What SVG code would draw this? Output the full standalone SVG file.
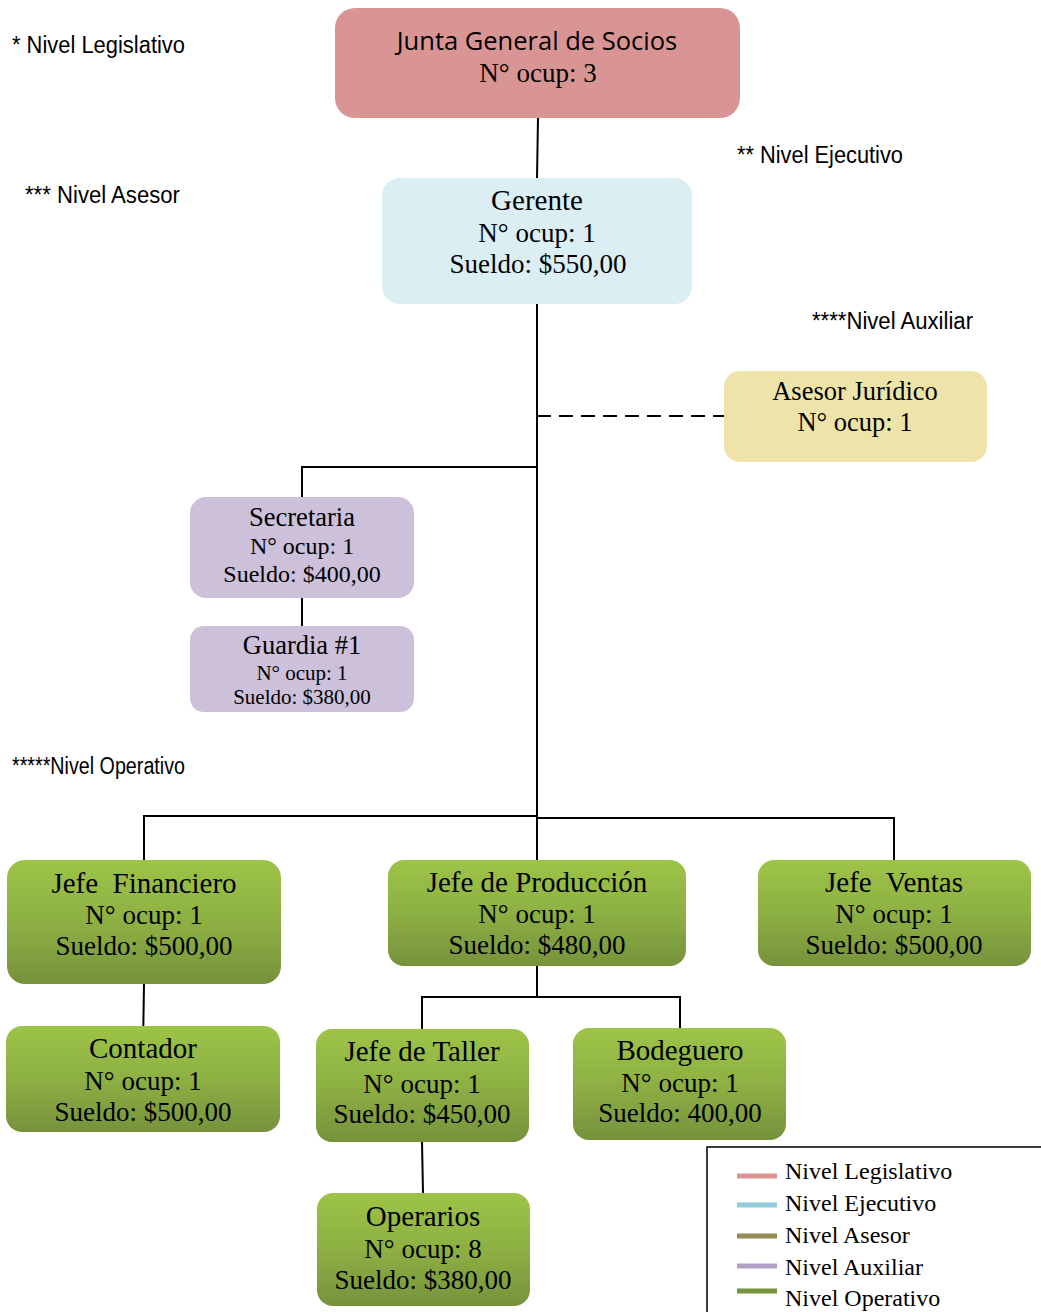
<svg xmlns="http://www.w3.org/2000/svg" width="1041" height="1312" viewBox="0 0 1041 1312">
  <defs>
    <linearGradient id="gradOper" x1="0" y1="0" x2="0" y2="1">
      <stop offset="0" stop-color="#9DC447"/>
      <stop offset="0.5" stop-color="#8DB043"/>
      <stop offset="1" stop-color="#76923C"/>
    </linearGradient>
    <style>
      .lvl { font-family: "Liberation Sans", Arial, sans-serif; font-size: 23px; fill: #000; }
      .h { font-family: "Liberation Serif", "Times New Roman", serif; font-size: 29px; fill: #000; text-anchor: middle; white-space: pre; }
      .t { font-family: "Liberation Serif", "Times New Roman", serif; font-size: 27px; fill: #000; text-anchor: middle; }
      .hs { font-family: "Liberation Serif", "Times New Roman", serif; font-size: 26.5px; fill: #000; text-anchor: middle; }
      .ts { font-family: "Liberation Serif", "Times New Roman", serif; font-size: 24px; fill: #000; text-anchor: middle; }
      .tx { font-family: "Liberation Serif", "Times New Roman", serif; font-size: 21px; fill: #000; text-anchor: middle; }
      .sans { font-family: "Open Sans", "Liberation Sans", sans-serif; font-size: 25.5px; fill: #000; text-anchor: middle; }
      .leg { font-family: "Liberation Serif", "Times New Roman", serif; font-size: 24px; fill: #000; }
      .conn { stroke: #000; stroke-width: 2; fill: none; }
      .oper { fill: url(#gradOper); }
    </style>
  </defs>

  <rect width="1041" height="1312" fill="#FFFFFF"/>

  <!-- level captions -->
  <g id="captions">
    <text class="lvl" x="12" y="53" textLength="173" lengthAdjust="spacingAndGlyphs">* Nivel Legislativo</text>
    <text class="lvl" x="25" y="203" textLength="155" lengthAdjust="spacingAndGlyphs">*** Nivel Asesor</text>
    <text class="lvl" x="737" y="163" textLength="166" lengthAdjust="spacingAndGlyphs">** Nivel Ejecutivo</text>
    <text class="lvl" x="812" y="329" textLength="161" lengthAdjust="spacingAndGlyphs">****Nivel Auxiliar</text>
    <text class="lvl" x="12" y="774" textLength="173" lengthAdjust="spacingAndGlyphs">*****Nivel Operativo</text>
  </g>

  <!-- connectors -->
  <g id="connectors">
    <line class="conn" x1="538" y1="118" x2="537" y2="178"/>
    <line class="conn" x1="537" y1="304" x2="537" y2="860"/>
    <line class="conn" x1="537" y1="416" x2="724" y2="416" stroke-dasharray="14,8"/>
    <polyline class="conn" points="537,467 302,467 302,497"/>
    <line class="conn" x1="302" y1="598" x2="302" y2="626"/>
    <polyline class="conn" points="144,860 144,816 537,816"/>
    <polyline class="conn" points="537,818 894,818 894,860"/>
    <line class="conn" x1="144" y1="984" x2="143" y2="1046"/>
    <line class="conn" x1="537" y1="966" x2="537" y2="997"/>
    <polyline class="conn" points="422,1029 422,997 680,997 680,1028"/>
    <line class="conn" x1="422" y1="1142" x2="423" y2="1193"/>
  </g>

  <g id="junta">
    <rect x="335" y="8" width="405" height="110" rx="20" fill="#D99594"/>
    <text class="sans" x="537" y="50">Junta General de Socios</text>
    <text class="t" x="538" y="82">N° ocup: 3</text>
  </g>

  <g id="gerente">
    <rect x="382" y="178" width="310" height="126" rx="18" fill="#DAEEF3"/>
    <text class="h" x="537" y="210">Gerente</text>
    <text class="t" x="537" y="242">N° ocup: 1</text>
    <text class="t" x="538" y="273">Sueldo: $550,00</text>
  </g>

  <g id="asesor">
    <rect x="724" y="371" width="263" height="91" rx="16" fill="#EEE4A9"/>
    <text class="hs" x="855" y="400">Asesor Jurídico</text>
    <text class="hs" x="855" y="431">N° ocup: 1</text>
  </g>

  <g id="secretaria">
    <rect x="190" y="497" width="224" height="101" rx="16" fill="#CCC0DA"/>
    <text class="hs" x="302" y="526">Secretaria</text>
    <text class="ts" x="302" y="554">N° ocup: 1</text>
    <text class="ts" x="302" y="582">Sueldo: $400,00</text>
  </g>

  <g id="guardia">
    <rect x="190" y="626" width="224" height="86" rx="14" fill="#CCC0DA"/>
    <text class="hs" x="302" y="654">Guardia #1</text>
    <text class="tx" x="302" y="680">N° ocup: 1</text>
    <text class="tx" x="302" y="704">Sueldo: $380,00</text>
  </g>

  <g id="jefe-financiero">
    <rect class="oper" x="7" y="860" width="274" height="124" rx="18"/>
    <text class="h" x="144" y="893" xml:space="preserve">Jefe  Financiero</text>
    <text class="t" x="144" y="924">N° ocup: 1</text>
    <text class="t" x="144" y="955">Sueldo: $500,00</text>
  </g>

  <g id="jefe-produccion">
    <rect class="oper" x="388" y="860" width="298" height="106" rx="16"/>
    <text class="h" x="537" y="892">Jefe de Producción</text>
    <text class="t" x="537" y="923">N° ocup: 1</text>
    <text class="t" x="537" y="954">Sueldo: $480,00</text>
  </g>

  <g id="jefe-ventas">
    <rect class="oper" x="758" y="860" width="273" height="106" rx="16"/>
    <text class="h" x="894" y="892" xml:space="preserve">Jefe  Ventas</text>
    <text class="t" x="894" y="923">N° ocup: 1</text>
    <text class="t" x="894" y="954">Sueldo: $500,00</text>
  </g>

  <g id="contador">
    <rect class="oper" x="6" y="1026" width="274" height="106" rx="16"/>
    <text class="h" x="143" y="1058">Contador</text>
    <text class="t" x="143" y="1090">N° ocup: 1</text>
    <text class="t" x="143" y="1121">Sueldo: $500,00</text>
  </g>

  <g id="jefe-taller">
    <rect class="oper" x="316" y="1029" width="213" height="113" rx="16"/>
    <text class="h" x="422" y="1061">Jefe de Taller</text>
    <text class="t" x="422" y="1093">N° ocup: 1</text>
    <text class="t" x="422" y="1123">Sueldo: $450,00</text>
  </g>

  <g id="bodeguero">
    <rect class="oper" x="573" y="1028" width="213" height="112" rx="16"/>
    <text class="h" x="680" y="1060">Bodeguero</text>
    <text class="t" x="680" y="1092">N° ocup: 1</text>
    <text class="t" x="680" y="1122">Sueldo: 400,00</text>
  </g>

  <g id="operarios">
    <rect class="oper" x="317" y="1193" width="213" height="113" rx="16"/>
    <text class="h" x="423" y="1226">Operarios</text>
    <text class="t" x="423" y="1258">N° ocup: 8</text>
    <text class="t" x="423" y="1289">Sueldo: $380,00</text>
  </g>

  <!-- legend -->
  <g id="legend">
    <rect x="707" y="1147" width="340" height="175" fill="#FFFFFF" stroke="#000" stroke-width="1.5"/>
    <line x1="737" y1="1176" x2="777" y2="1176" stroke="#D99594" stroke-width="5"/>
    <line x1="737" y1="1205" x2="777" y2="1205" stroke="#92CDDC" stroke-width="5"/>
    <line x1="737" y1="1236" x2="777" y2="1236" stroke="#948A54" stroke-width="5"/>
    <line x1="737" y1="1266" x2="777" y2="1266" stroke="#B2A1C7" stroke-width="5"/>
    <line x1="737" y1="1291" x2="777" y2="1291" stroke="#77933C" stroke-width="5"/>
    <text class="leg" x="785" y="1179">Nivel Legislativo</text>
    <text class="leg" x="785" y="1211">Nivel Ejecutivo</text>
    <text class="leg" x="785" y="1243">Nivel Asesor</text>
    <text class="leg" x="785" y="1275">Nivel Auxiliar</text>
    <text class="leg" x="785" y="1306">Nivel Operativo</text>
  </g>
</svg>
